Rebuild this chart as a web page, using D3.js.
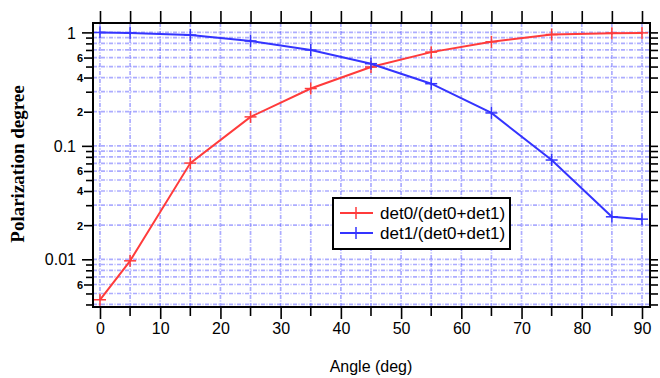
<!DOCTYPE html>
<html>
<head>
<meta charset="utf-8">
<script src="https://cdn.jsdelivr.net/npm/d3@7"></script>
<style>
  body { margin: 0; background: #fff; }
  svg { display: block; font-family: "Liberation Sans", Arial, sans-serif; }
</style>
</head>
<body>
<div id="chart"></div>
<script>
// data
const angles = [0, 5, 15, 25, 35, 45, 55, 65, 75, 85, 90];
const det0 = [0.0044, 0.0097, 0.0705, 0.18, 0.32, 0.495, 0.67, 0.826, 0.958, 0.985, 0.99];
const det1 = [0.998, 0.99, 0.948, 0.84, 0.70, 0.53, 0.353, 0.195, 0.075, 0.0237, 0.0226];
const seriesNames = ['det0/(det0+det1)', 'det1/(det0+det1)'];
const xTickLabels = [0, 10, 20, 30, 40, 50, 60, 70, 80, 90];

const width = 660;
const height = 378;
const margin = {top: 23, right: 10, bottom: 71, left: 93};

const svg = d3.select('#chart')
  .append('svg')
    .attr('width', width)
    .attr('height', height);

const x = d3.scaleLinear()
  .domain([-1.16, 91.33])
  .range([margin.left, width - margin.right]);

const y = d3.scaleLog()
  .domain([0.0038, 1.21])
  .range([height - margin.bottom, margin.top]);

// log ticks 1..9 per decade
const logTicks = [];
[0.001, 0.01, 0.1, 1].forEach(dec => {
  for (let k = 1; k <= 9; k++) {
    const v = +(dec * k).toPrecision(3);
    if (v >= y.domain()[0] && v <= y.domain()[1]) logTicks.push(v);
  }
});
const xMinor = d3.range(0, 91, 5);

// grid
const grid = svg.append('g')
  .attr('stroke', '#3a3aff')
  .attr('stroke-opacity', 0.42)
  .attr('stroke-width', 1.7)
  .attr('stroke-dasharray', '4,1.5,1,1.5');

grid.selectAll('.vg')
  .data(xMinor)
  .enter().append('line')
    .attr('x1', d => x(d)).attr('x2', d => x(d))
    .attr('y1', margin.top).attr('y2', height - margin.bottom);

grid.selectAll('.hg')
  .data(logTicks)
  .enter().append('line')
    .attr('x1', margin.left).attr('x2', width - margin.right)
    .attr('y1', d => y(d)).attr('y2', d => y(d));

// bottom axis
const xAxis = d3.axisBottom(x)
  .tickValues(xTickLabels)
  .tickSize(12)
  .tickPadding(4)
  .tickFormat(d3.format('d'));

const gx = svg.append('g')
  .attr('transform', `translate(0,${height - margin.bottom})`)
  .call(xAxis);

gx.selectAll('.minor')
  .data(xMinor.filter(d => d % 10 !== 0))
  .enter().append('line')
    .attr('x1', d => x(d)).attr('x2', d => x(d))
    .attr('y1', 0).attr('y2', 9)
    .attr('stroke', '#000');

// top axis
const gTop = svg.append('g')
  .attr('transform', `translate(0,${margin.top})`)
  .call(d3.axisTop(x).tickValues(xMinor).tickSize(12).tickFormat(''));

// left axis
const yLabelFmt = d => {
  const m = Math.round(d / Math.pow(10, Math.floor(Math.log10(d) + 1e-9)));
  if (y(d) > height - margin.bottom - 6) return '';
  if (m === 1) return String(+d.toPrecision(1));
  if (m === 2 || m === 4 || m === 6) return String(m);
  return '';
};
const isMajor = d => {
  const l = yLabelFmt(d);
  return l.length > 1 || l === '1';
};

const gy = svg.append('g')
  .attr('transform', `translate(${margin.left},0)`)
  .call(d3.axisLeft(y).tickValues(logTicks).tickSize(7).tickFormat(''));

gy.selectAll('.tick line')
  .attr('x2', d => yLabelFmt(d) === '' ? -7 : (isMajor(d) ? -11 : -9));

gy.selectAll('.tick')
  .append('text')
    .attr('fill', '#000')
    .attr('dy', '0.35em')
    .attr('text-anchor', 'end')
    .attr('x', d => isMajor(d) ? -17 : -10)
    .style('font-size', d => isMajor(d) ? '16px' : '11px')
    .style('font-weight', d => isMajor(d) ? 'normal' : 'bold')
    .text(yLabelFmt);

// right axis
const gr = svg.append('g')
  .attr('transform', `translate(${width - margin.right},0)`)
  .call(d3.axisRight(y).tickValues(logTicks).tickSize(8).tickFormat(''));

[gx, gTop, gy, gr].forEach(g => {
  g.select('.domain').remove();
  g.selectAll('line').attr('stroke', '#000').attr('stroke-width', 1.6);
});
gx.selectAll('text')
  .style('font-size', '16px')
  .attr('fill', '#000');

// frame
svg.append('rect')
  .attr('x', margin.left)
  .attr('y', margin.top)
  .attr('width', width - margin.left - margin.right)
  .attr('height', height - margin.top - margin.bottom)
  .attr('fill', 'none')
  .attr('stroke', '#000')
  .attr('stroke-width', 2);

// series
const colors = ['#ff3b3b', '#3434ff'];
const series = [det0, det1];

const line = d3.line()
  .x((d, i) => x(angles[i]))
  .y(d => y(d));

series.forEach((vals, s) => {
  const g = svg.append('g');
  g.append('path')
    .datum(vals)
    .attr('d', line)
    .attr('fill', 'none')
    .attr('stroke', colors[s])
    .attr('stroke-width', 2);

  const mk = g.selectAll('.mk')
    .data(vals)
    .enter().append('g')
      .attr('transform', (d, i) => `translate(${x(angles[i])},${y(d)})`);
  mk.append('line')
    .attr('x1', -6).attr('x2', 6)
    .attr('stroke', colors[s]).attr('stroke-width', 1.5);
  mk.append('line')
    .attr('y1', -6).attr('y2', 6)
    .attr('stroke', colors[s]).attr('stroke-width', 1.5);
});

// legend
const legend = svg.append('g')
  .attr('transform', 'translate(333,198)');

legend.append('rect')
  .attr('width', 177)
  .attr('height', 51)
  .attr('fill', '#fff')
  .attr('stroke', '#000')
  .attr('stroke-width', 2);

seriesNames.forEach((name, s) => {
  const row = legend.append('g')
    .attr('transform', `translate(0,${15 + s * 20})`);
  row.append('line')
    .attr('x1', 7).attr('x2', 40)
    .attr('stroke', colors[s]).attr('stroke-width', 2);
  row.append('line')
    .attr('x1', 23).attr('x2', 23)
    .attr('y1', -6).attr('y2', 6)
    .attr('stroke', colors[s]).attr('stroke-width', 1.5);
  row.append('text')
    .attr('x', 47)
    .attr('dy', '0.35em')
    .style('font-size', '17px')
    .text(name);
});

// axis titles
svg.append('text')
  .attr('x', x(45))
  .attr('y', 372)
  .attr('text-anchor', 'middle')
  .style('font-size', '16px')
  .text('Angle (deg)');

svg.append('text')
  .attr('transform', 'translate(24,164) rotate(-90)')
  .attr('text-anchor', 'middle')
  .style('font-family', '"Liberation Serif", "Times New Roman", serif')
  .style('font-weight', 'bold')
  .style('font-size', '19px')
  .text('Polarization degree');
</script>
</body>
</html>
